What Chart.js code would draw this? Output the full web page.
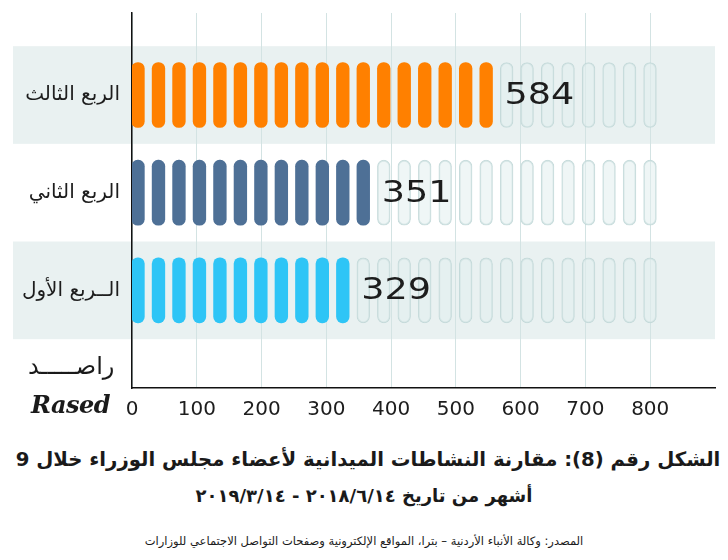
<!DOCTYPE html>
<html lang="ar">
<head>
<meta charset="utf-8">
<script src="https://cdn.jsdelivr.net/npm/chart.js@4.4.1/dist/chart.umd.min.js"></script>
<style>
  html, body { margin: 0; padding: 0; background: #ffffff; }
  body { width: 728px; height: 560px; position: relative; overflow: hidden; font-family: "DejaVu Sans", sans-serif; color: #1a1a1a; }
  #wrap { position: absolute; left: 0; top: 0; width: 728px; height: 430px; }
  .t { position: absolute; left: 0; width: 728px; text-align: center; direction: rtl; white-space: nowrap; }
  #title1 { top: 448px; left: 4px; font-size: 19.7px; font-weight: bold; }
  #title2 { top: 485px; font-size: 18px; font-weight: bold; }
  #source { top: 534px; font-size: 11.5px; }
  #logoAr { position: absolute; left: 28px; top: 352px; font-size: 24px; direction: rtl; font-family: "DejaVu Sans", sans-serif; }
  #logoEn { position: absolute; left: 31px; top: 390px; font-size: 24px; font-style: italic; font-weight: bold; font-family: "DejaVu Serif", serif; letter-spacing: -0.5px; }
</style>
</head>
<body>
<div id="wrap"><canvas id="c"></canvas></div>
<div id="logoAr">راصـــــد</div>
<div id="logoEn">Rased</div>
<div class="t" id="title1">الشكل رقم (8): مقارنة النشاطات الميدانية لأعضاء مجلس الوزراء خلال 9</div>
<div class="t" id="title2">أشهر من تاريخ ٢٠١٨/٦/١٤ - ٢٠١٩/٣/١٤</div>
<div class="t" id="source">المصدر: وكالة الأنباء الأردنية – بترا، المواقع الإلكترونية وصفحات التواصل الاجتماعي للوزارات</div>
<script>
// ---- data ----
const categories = ['الربع الثالث', 'الربع الثاني', 'الــربع الأول'];
const values = [584, 351, 329];
const filledCapsules = [18, 12, 11];
const totalCapsules = 26;
const xTickValues = [0, 100, 200, 300, 400, 500, 600, 700, 800];

// ---- styles ----
const fillColors = ['#ff8000', '#4e7096', '#2ec5f6'];
const fadedFill = 'rgba(226,238,238,0.55)';
const fadedBorder = 'rgba(190,214,214,0.85)';
const bandColor = '#e9f1f1';
const halfW = 0.31;

const datasets = [];
for (let i = 0; i < totalCapsules; i++) {
  datasets.push({
    xAxisID: 'xc',
    yAxisID: 'y',
    data: categories.map((c, k) => ({ x: [i + 0.5 - halfW, i + 0.5 + halfW], y: k + 1 })),
    backgroundColor: categories.map((c, k) => i < filledCapsules[k] ? fillColors[k] : fadedFill),
    borderColor: categories.map((c, k) => i < filledCapsules[k] ? fillColors[k] : fadedBorder),
    borderWidth: categories.map((c, k) => i < filledCapsules[k] ? 0 : 1),
    borderRadius: 20,
    borderSkipped: false,
    grouped: false,
    barThickness: 65
  });
}

const bandsPlugin = {
  id: 'bands',
  beforeDraw(chart) {
    const { ctx, chartArea, scales } = chart;
    const y = scales.y;
    ctx.save();
    ctx.fillStyle = bandColor;
    categories.forEach((c, k) => {
      if (k % 2 !== 0) return;
      const a = y.getPixelForValue(k + 1 - 0.5);
      const b = y.getPixelForValue(k + 1 + 0.5);
      ctx.fillRect(13, Math.min(a, b), chartArea.right - 13, Math.abs(b - a));
    });
    ctx.restore();
  }
};

const valueLabels = {
  id: 'valueLabels',
  afterDatasetsDraw(chart) {
    const { ctx, scales } = chart;
    ctx.save();
    ctx.font = '31px "DejaVu Sans"';
    ctx.fillStyle = '#1d1d1d';
    ctx.textBaseline = 'middle';
    ctx.textAlign = 'left';
    values.forEach((v, k) => {
      const xEnd = scales.xc.getPixelForValue(filledCapsules[k] - 0.5 + halfW);
      const yc = scales.y.getPixelForValue(k + 1);
      ctx.save();
      ctx.translate(xEnd + 12, yc + 1);
      ctx.scale(1.18, 1);
      ctx.fillText(String(v), 0, 0);
      ctx.restore();
    });
    ctx.restore();
  }
};

new Chart(document.getElementById('c'), {
  type: 'bar',
  data: { datasets },
  plugins: [bandsPlugin, valueLabels],
  options: {
    indexAxis: 'y',
    responsive: true,
    maintainAspectRatio: false,
    animation: false,
    layout: { padding: { top: 13, right: 13, left: 0, bottom: 0 } },
    plugins: { legend: { display: false }, tooltip: { enabled: false }, title: { display: false } },
    scales: {
      x: {
        type: 'linear',
        position: 'bottom',
        min: 0,
        max: 900,
        afterBuildTicks(s) { s.ticks = xTickValues.map(v => ({ value: v })); },
        afterFit(s) { s.height = 42; s.paddingLeft = 0; s.paddingRight = 0; },
        grid: { color: '#d3e3e3', lineWidth: 1, drawTicks: false },
        border: { display: true, color: '#111111', width: 1.5 },
        ticks: { padding: 10, color: '#1d1d1d', font: { family: 'DejaVu Sans', size: 20 } }
      },
      xc: {
        type: 'linear',
        display: false,
        min: 0.207,
        max: 28.674
      },
      y: {
        type: 'linear',
        position: 'left',
        reverse: true,
        offset: false,
        bounds: 'data',
        min: 0.16,
        max: 4.0,
        afterBuildTicks(s) { s.ticks = categories.map((c, k) => ({ value: k + 1 })); },
        afterFit(s) { s.width = 132; s.paddingTop = 0; s.paddingBottom = 0; },
        grid: { display: false, drawTicks: false, offset: false },
        border: { display: true, color: '#111111', width: 1.5 },
        ticks: {
          padding: 12,
          color: '#1d1d1d',
          font: { family: 'DejaVu Sans', size: 20 },
          callback: (v) => categories[Math.round(v) - 1] || ''
        }
      }
    }
  }
});
</script>
</body>
</html>
